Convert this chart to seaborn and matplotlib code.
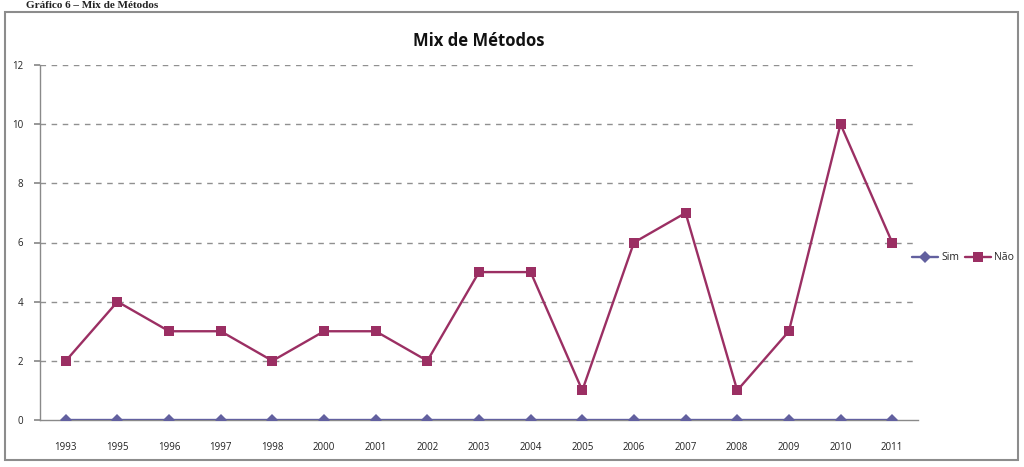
import matplotlib
matplotlib.use("Agg")
import matplotlib.pyplot as plt
import seaborn as sns
import pandas as pd
from matplotlib.patches import Rectangle

years = ["1993", "1995", "1996", "1997", "1998", "2000", "2001", "2002", "2003",
         "2004", "2005", "2006", "2007", "2008", "2009", "2010", "2011"]
sim = [0] * 17
nao = [2, 4, 3, 3, 2, 3, 3, 2, 5, 5, 1, 6, 7, 1, 3, 10, 6]
series_names = ["Sim", "Não"]
yticks = [0, 2, 4, 6, 8, 10, 12]

sns.set_theme(style="white")
plt.rcParams["font.family"] = ["Open Sans", "DejaVu Sans"]

df = pd.DataFrame({
    "Ano": years * 2,
    "Valor": sim + nao,
    "Serie": [series_names[0]] * 17 + [series_names[1]] * 17,
})

fig = plt.figure(figsize=(10.24, 4.67), dpi=100)
ax = fig.add_axes([40 / 1024, 1 - 420 / 467, 878 / 1024, 355 / 467])

colors = {"Sim": "#62609f", "Não": "#9b2f63"}
for name, marker, ms in [("Sim", "D", 6), ("Não", "s", 7.5)]:
    sub = df[df["Serie"] == name]
    sns.lineplot(data=sub, x="Ano", y="Valor", color=colors[name], marker=marker,
                 markersize=ms, markeredgewidth=0, linewidth=1.7, ax=ax,
                 label=name, sort=False, zorder=3)

ax.set_xlim(-0.5, len(years) - 0.5)
ax.set_ylim(0, 12)
ax.set_yticks(yticks)
ax.set_xlabel("")
ax.set_ylabel("")
for y in yticks[1:]:
    ax.axhline(y, color="#909090", linestyle=(0, (4, 4)), linewidth=1.0, zorder=1)
for s in ["top", "right"]:
    ax.spines[s].set_visible(False)
ax.spines["left"].set_color("#8a8a8a")
ax.spines["bottom"].set_color("#8a8a8a")
ax.spines["left"].set_linewidth(1.0)
ax.spines["bottom"].set_linewidth(1.0)
ax.tick_params(axis="y", left=True, length=4, color="#8a8a8a", labelsize=7, colors="#222222", pad=8)
ax.tick_params(axis="x", bottom=False, labelsize=7, colors="#222222", pad=10)

ax.set_title("Mix de Métodos", fontsize=12, fontweight="bold", pad=14, color="#111111")

leg = ax.legend(loc="center left", bbox_to_anchor=(912 / 1024, 1 - 258 / 467),
                bbox_transform=fig.transFigure, frameon=False, borderpad=0, borderaxespad=0,
                fontsize=7.5, handlelength=2.5, handletextpad=0.3, ncol=2, columnspacing=0.55)

fig.patches.append(Rectangle((5 / 1024, 1 - 460 / 467), 1013 / 1024, 448 / 467,
                             transform=fig.transFigure, fill=False,
                             edgecolor="#8c8c8c", linewidth=1.5))
fig.text(0.025, 1 - 1 / 467, "Gráfico 6 – Mix de Métodos", fontsize=8, fontweight="bold",
         family="Liberation Serif", va="top", ha="left", color="#222222")

fig.savefig("out.png", dpi=100)
